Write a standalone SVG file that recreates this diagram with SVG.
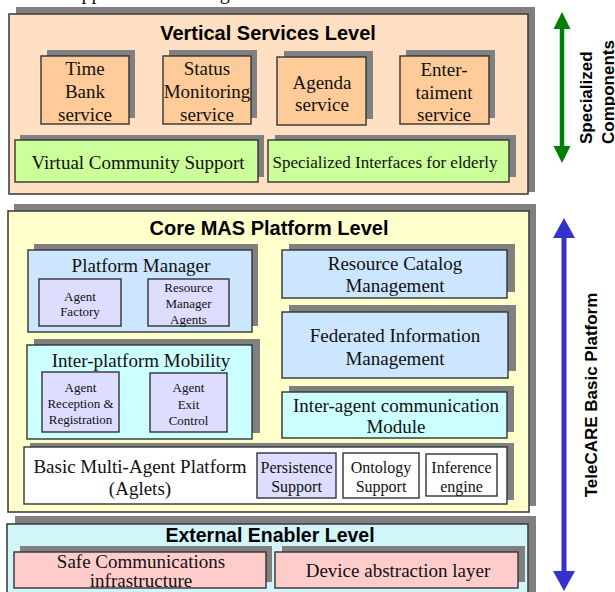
<svg xmlns="http://www.w3.org/2000/svg" width="615" height="592" viewBox="0 0 615 592">
<style>
.sh{fill:#808080;stroke:none}
.bx{stroke:#333;stroke-width:1.4}
.lvl{stroke:#404040;stroke-width:1.6}
.t{font-family:"Liberation Serif","Times New Roman",serif;fill:#111;text-anchor:middle}
.h{font-family:"Liberation Sans",Arial,sans-serif;font-weight:bold;fill:#000;text-anchor:middle;font-size:20px}
.v{font-family:"Liberation Sans",Arial,sans-serif;font-weight:bold;fill:#000;font-size:17px}
.s19{font-size:19px}.s18{font-size:18px}.s17{font-size:17px}.s16{font-size:16px}.s13{font-size:13px}
.peach{fill:#FFE0C2}.orange{fill:#FFCC99}.green{fill:#CCFF99}.yellow{fill:#FFFFCC}
.blue{fill:#CCE6FF}.cyan{fill:#CCFFFF}.lav{fill:#DDDDFF}.white{fill:#FFFFFF}.ext{fill:#D2F5F9}.pink{fill:#FFCCCC}
</style>
<defs>
<marker id="gh" markerUnits="userSpaceOnUse" markerWidth="18" markerHeight="18" refX="0" refY="8.5" orient="auto-start-reverse" viewBox="0 0 18 17"><path d="M0,0 L17,8.5 L0,17 Z" fill="#008000"/></marker>
<marker id="bh" markerUnits="userSpaceOnUse" markerWidth="21" markerHeight="22" refX="0" refY="11" orient="auto-start-reverse" viewBox="0 0 21 22"><path d="M0,0 L20,11 L0,22 Z" fill="#3333CC"/></marker>
</defs>

<text class="t" x="67" y="-1" style="text-anchor:start;font-size:20px">Applications Management</text>

<g id="vertical-services-level">
<rect class="sh" x="16" y="7" width="519" height="185"/>
<rect class="lvl peach" x="9" y="14" width="519" height="180"/>
<text class="h" x="268" y="40">Vertical Services Level</text>
</g>
<g id="time-bank">
<rect class="sh" x="47" y="50" width="88" height="68"/>
<rect class="bx orange" x="41" y="56" width="88" height="68"/>
<text class="t s19" x="85" y="75">Time</text><text class="t s19" x="85" y="98">Bank</text><text class="t s19" x="85" y="121">service</text>
</g>
<g id="status-monitoring">
<rect class="sh" x="169" y="50" width="88" height="68"/>
<rect class="bx orange" x="163" y="56" width="88" height="68"/>
<text class="t s19" x="207" y="75">Status</text><text class="t s19" x="207" y="98">Monitoring</text><text class="t s19" x="207" y="121">service</text>
</g>
<g id="agenda">
<rect class="sh" x="284" y="51" width="89" height="68"/>
<rect class="bx orange" x="277" y="57" width="89" height="68"/>
<text class="t s19" x="322" y="89">Agenda</text><text class="t s19" x="322" y="111">service</text>
</g>
<g id="entertaiment">
<rect class="sh" x="406" y="50" width="89" height="68"/>
<rect class="bx orange" x="400" y="56" width="89" height="68"/>
<text class="t s19" x="444" y="76">Enter-</text><text class="t s19" x="444" y="99">taiment</text><text class="t s19" x="444" y="121">service</text>
</g>
<g id="virtual-community">
<rect class="sh" x="20" y="135" width="244" height="42"/>
<rect class="bx green" x="15" y="140" width="243" height="42"/>
<text class="t s19" x="138" y="169">Virtual Community Support</text>
</g>
<g id="specialized-interfaces">
<rect class="sh" x="275" y="135" width="241" height="42"/>
<rect class="bx green" x="268" y="140" width="241" height="42"/>
<text class="t s17" x="385" y="168">Specialized Interfaces for elderly</text>
</g>

<g id="core-mas-platform-level">
<rect class="sh" x="14" y="204" width="522" height="302"/>
<rect class="lvl yellow" x="8" y="211" width="521" height="301"/>
<text class="h" x="269" y="235">Core MAS Platform Level</text>
</g>
<g id="platform-manager">
<rect class="sh" x="34" y="244" width="224" height="82"/>
<rect class="bx blue" x="28" y="250" width="224" height="82"/>
<text class="t s19" x="141" y="272">Platform Manager</text>
</g>
<g id="agent-factory">
<rect class="bx lav" x="39" y="279" width="82" height="47"/>
<text class="t s13" x="80" y="301">Agent</text><text class="t s13" x="80" y="316">Factory</text>
</g>
<g id="resource-manager-agents">
<rect class="bx lav" x="148" y="279" width="81" height="47"/>
<text class="t s13" x="188.5" y="292">Resource</text><text class="t s13" x="188.5" y="308">Manager</text><text class="t s13" x="188.5" y="324">Agents</text>
</g>
<g id="inter-platform-mobility">
<rect class="sh" x="34" y="339" width="226" height="94"/>
<rect class="bx cyan" x="27" y="345" width="225" height="94"/>
<text class="t s19" x="141" y="367">Inter-platform Mobility</text>
</g>
<g id="agent-reception">
<rect class="bx lav" x="42" y="372" width="77" height="60"/>
<text class="t s13" x="80.5" y="392">Agent</text><text class="t s13" x="80.5" y="408">Reception &amp;</text><text class="t s13" x="80.5" y="424">Registration</text>
</g>
<g id="agent-exit-control">
<rect class="bx lav" x="150" y="373" width="77" height="59"/>
<text class="t s13" x="188.5" y="392">Agent</text><text class="t s13" x="188.5" y="409">Exit</text><text class="t s13" x="188.5" y="425">Control</text>
</g>
<g id="resource-catalog">
<rect class="sh" x="289" y="244" width="226" height="48"/>
<rect class="bx blue" x="282" y="250" width="225" height="48"/>
<text class="t s19" x="395" y="270">Resource Catalog</text><text class="t s19" x="395" y="292">Management</text>
</g>
<g id="federated-information">
<rect class="sh" x="289" y="305" width="227" height="66"/>
<rect class="bx blue" x="282" y="312" width="226" height="66"/>
<text class="t s19" x="395" y="342">Federated Information</text><text class="t s19" x="395" y="365">Management</text>
</g>
<g id="inter-agent-communication">
<rect class="sh" x="289" y="386" width="225" height="46"/>
<rect class="bx cyan" x="282" y="392" width="225" height="46"/>
<text class="t s19" x="396" y="412">Inter-agent communication</text><text class="t s19" x="396" y="433">Module</text>
</g>
<g id="basic-multi-agent-platform">
<rect class="sh" x="30" y="443" width="484" height="57"/>
<rect class="bx white" x="24" y="447" width="483" height="57"/>
<text class="t s19" x="140" y="473">Basic Multi-Agent Platform</text><text class="t s19" x="140" y="495">(Aglets)</text>
</g>
<g id="persistence-support">
<rect class="bx lav" x="257" y="453" width="79" height="45"/>
<text class="t s16" x="296.5" y="473">Persistence</text><text class="t s16" x="296.5" y="492">Support</text>
</g>
<g id="ontology-support">
<rect class="bx white" x="343" y="453" width="76" height="45"/>
<text class="t s16" x="381" y="473">Ontology</text><text class="t s16" x="381" y="492">Support</text>
</g>
<g id="inference-engine">
<rect class="bx white" x="426" y="454" width="71" height="42"/>
<text class="t s16" x="461.5" y="473">Inference</text><text class="t s16" x="461.5" y="492">engine</text>
</g>

<g id="external-enabler-level">
<rect class="sh" x="15" y="516" width="521" height="80"/>
<rect class="lvl ext" x="7" y="524" width="521" height="80"/>
<text class="h" x="270" y="542" style="font-size:19.5px">External Enabler Level</text>
</g>
<g id="safe-communications">
<rect class="sh" x="20" y="546" width="252" height="36"/>
<rect class="bx pink" x="14" y="552" width="252" height="36"/>
<text class="t s19" x="141" y="568">Safe Communications</text><text class="t s19" x="141" y="587">infrastructure</text>
</g>
<g id="device-abstraction">
<rect class="sh" x="282" y="546" width="243" height="36"/>
<rect class="bx pink" x="275" y="552" width="243" height="36"/>
<text class="t s19" x="398" y="577">Device abstraction layer</text>
</g>

<g id="connectors">
<line x1="562" y1="29" x2="562" y2="146" stroke="#008000" stroke-width="4.5" marker-start="url(#gh)" marker-end="url(#gh)"/>
<line x1="564" y1="238" x2="564" y2="571" stroke="#3333CC" stroke-width="5" marker-start="url(#bh)" marker-end="url(#bh)"/>
</g>
<g id="label-specialized">
<text class="v" x="591.5" y="144" transform="rotate(-90 591.5 144)">Specialized</text>
<text class="v" x="614" y="144" transform="rotate(-90 614 144)">Components</text>
</g>
<g id="label-telecare">
<text class="v" x="597" y="395" text-anchor="middle" transform="rotate(-90 597 395)">TeleCARE Basic Platform</text>
</g>
</svg>
